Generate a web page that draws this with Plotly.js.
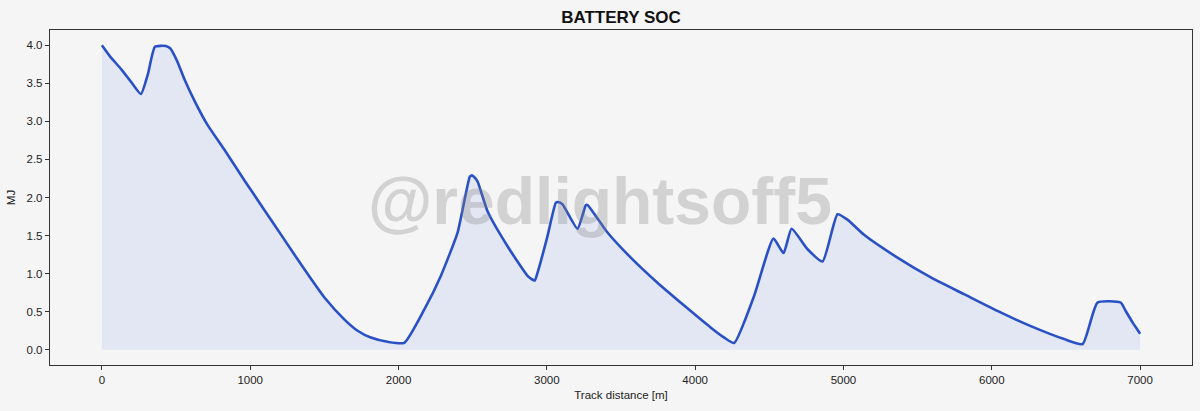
<!DOCTYPE html>
<html>
<head>
<meta charset="utf-8">
<script src="https://cdn.plot.ly/plotly-3.0.1.min.js"></script>
<style>
html,body{margin:0;padding:0;background:#f5f5f5;}
#chart{width:1200px;height:411px;}
</style>
</head>
<body>
<div id="chart"></div>
<script>
const distance = [0, 60, 128, 200, 263, 310, 358, 431, 460, 477, 510, 555, 622, 713, 825, 959, 1094, 1229, 1364, 1499, 1634, 1724, 1813, 1926, 2038, 2174, 2285, 2398, 2480, 2492, 2510, 2533, 2600, 2735, 2870, 2905, 2919, 2940, 3004, 3060, 3075, 3106, 3207, 3263, 3275, 3409, 3566, 3746, 3926, 4106, 4196, 4263, 4398, 4528, 4596, 4650, 4758, 4859, 4960, 5027, 5139, 5364, 5589, 5813, 6038, 6263, 6488, 6612, 6713, 6870, 6900, 6949, 6980, 7000];
const socMJ = [4.00, 3.84, 3.69, 3.51, 3.36, 3.62, 3.98, 3.99, 3.96, 3.91, 3.78, 3.56, 3.28, 2.95, 2.63, 2.23, 1.84, 1.45, 1.06, 0.69, 0.40, 0.25, 0.16, 0.105, 0.09, 0.53, 0.97, 1.54, 2.27, 2.29, 2.27, 2.21, 1.82, 1.36, 0.97, 0.92, 0.91, 1.03, 1.49, 1.93, 1.94, 1.91, 1.59, 1.90, 1.90, 1.54, 1.21, 0.88, 0.58, 0.29, 0.16, 0.09, 0.71, 1.46, 1.27, 1.59, 1.32, 1.16, 1.78, 1.71, 1.51, 1.21, 0.95, 0.73, 0.51, 0.31, 0.14, 0.075, 0.62, 0.62, 0.52, 0.36, 0.27, 0.21];
const xTicks = [0, 1000, 2000, 3000, 4000, 5000, 6000, 7000];
const yTicks = [0, 0.5, 1.0, 1.5, 2.0, 2.5, 3.0, 3.5, 4.0];

const trace = {
  x: distance, y: socMJ, type: 'scatter', mode: 'lines',
  fill: 'tozeroy', fillcolor: 'rgba(65,105,225,0.10)',
  line: {color: '#2a50c6', width: 2.6, shape: 'spline', smoothing: 0.5},
  hoverinfo: 'x+y'
};

const font = {family: '"Liberation Sans", Arial, sans-serif', color: '#222'};
const layout = {
  width: 1200, height: 411,
  paper_bgcolor: '#f5f5f5', plot_bgcolor: '#f5f5f5',
  margin: {l: 50, r: 8, t: 30, b: 46},
  font: Object.assign({size: 11.5}, font),
  showlegend: false,
  title: {text: '<b>BATTERY SOC</b>', x: 0.5, xref: 'paper', y: 0.958, yref: 'container', yanchor: 'middle',
          font: Object.assign({}, font, {size: 17, color: '#111'})},
  xaxis: {
    range: [-350, 7350], tickvals: xTicks, ticktext: xTicks.map(String),
    showgrid: false, zeroline: false, showline: true, mirror: true, linecolor: '#333', linewidth: 1.2,
    ticks: 'outside', ticklen: 4, tickcolor: '#333', tickfont: {size: 11.5},
    title: {text: 'Track distance [m]', font: {size: 11.5}, standoff: 6}
  },
  yaxis: {
    range: [-0.2, 4.2], tickvals: yTicks, ticktext: yTicks.map(v => v.toFixed(1)),
    showgrid: false, zeroline: false, showline: true, mirror: true, linecolor: '#333', linewidth: 1.2,
    ticks: 'outside', ticklen: 4, tickcolor: '#333', tickfont: {size: 11.5},
    title: {text: 'MJ', font: {size: 11.5}, standoff: 8}
  },
  annotations: [{
    text: '<b>@redlightsoff5</b>', xref: 'paper', yref: 'paper', x: 0.482, y: 0.49,
    showarrow: false, xanchor: 'center', yanchor: 'middle',
    font: {family: '"Liberation Sans", Arial, sans-serif', size: 66, color: 'rgba(128,128,128,0.30)'}
  }]
};

Plotly.newPlot('chart', [trace], layout, {displayModeBar: false, staticPlot: true});
</script>
</body>
</html>
